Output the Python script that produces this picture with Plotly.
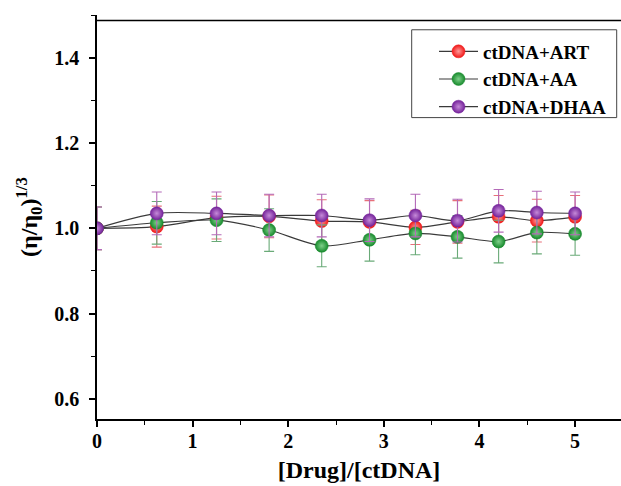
import plotly.graph_objects as go

ratio = [0, 0.625, 1.25, 1.8, 2.35, 2.85, 3.33, 3.77, 4.2, 4.6, 5.0]
art_y = [1.0, 1.004, 1.025, 1.028, 1.017, 1.015, 1.002, 1.015, 1.027, 1.018, 1.027]
aa_y = [1.0, 1.013, 1.019, 0.996, 0.959, 0.973, 0.988, 0.980, 0.969, 0.990, 0.987]
dhaa_y = [1.0, 1.035, 1.035, 1.030, 1.030, 1.019, 1.030, 1.018, 1.041, 1.037, 1.035]
art_err = [0.05, 0.048, 0.05, 0.05, 0.05, 0.05, 0.04, 0.05, 0.05, 0.05, 0.05]
aa_err = [0.05, 0.05, 0.05, 0.05, 0.049, 0.05, 0.05, 0.05, 0.05, 0.05, 0.05]
dhaa_err = [0.05, 0.05, 0.05, 0.05, 0.05, 0.05, 0.05, 0.05, 0.05, 0.05, 0.05]
names = ["ctDNA+ART", "ctDNA+AA", "ctDNA+DHAA"]

series = [
    (names[0], art_y, art_err, "#f01818", "#ff9a9a", "#e8707a"),
    (names[1], aa_y, aa_err, "#178a2c", "#7fd08a", "#6aaa78"),
    (names[2], dhaa_y, dhaa_err, "#74229a", "#c58ad8", "#b46ab8"),
]

fig = go.Figure()
for name, ys, errs, col, hi, ecol in series:
    fig.add_trace(go.Scatter(
        x=ratio, y=ys, name=name, mode="lines+markers",
        line=dict(color="#3a3a3a", width=1.2, shape="spline", smoothing=0.8),
        marker=dict(size=13, color=col, line=dict(width=0.5, color=col),
                    gradient=dict(type="radial", color=hi)),
        error_y=dict(type="data", array=errs, visible=True, color=ecol,
                     thickness=1.1, width=5),
    ))

PW, PH = 524.0, 404.8   # plot area size in px
X0, Y0 = 97.0, 419.3    # plot area left / bottom in window px

serif = "Liberation Serif, Times New Roman, serif"
fig.update_layout(
    width=621, height=486,
    margin=dict(l=97, r=0, t=14.5, b=66.7),
    paper_bgcolor="white", plot_bgcolor="white",
    font=dict(family=serif, color="black"),
    showlegend=True,
    legend=dict(x=(434 - X0) / PW, y=(Y0 - 32) / PH, xanchor="left", yanchor="top",
                borderwidth=0, bgcolor="rgba(0,0,0,0)",
                font=dict(family=serif, size=19, weight="bold"),
                tracegroupgap=0, itemwidth=39),
    xaxis=dict(range=[0, 5.48], showline=True, linecolor="black", linewidth=1.5,
               ticks="outside", ticklen=6, tickwidth=1.5, tickcolor="black",
               dtick=1, tick0=0, showgrid=False, zeroline=False, ticklabelstandoff=-3,
               tickfont=dict(family=serif, size=20, weight="bold"),
               minor=dict(ticks="outside", ticklen=4, dtick=0.5, tickcolor="black",
                          tickwidth=1.2, showgrid=False),
               title=dict(text="[Drug]/[ctDNA]", standoff=10,
                          font=dict(family=serif, size=24, weight="bold"))),
    yaxis=dict(range=[0.553, 1.5], showline=True, linecolor="black", linewidth=1.5,
               ticks="outside", ticklen=6, tickwidth=1.5, tickcolor="black",
               dtick=0.2, tick0=0.6, tickformat=".1f", showgrid=False, zeroline=False,
               ticklabelstandoff=6,
               tickfont=dict(family=serif, size=20, weight="bold"),
               minor=dict(ticks="outside", ticklen=4, dtick=0.1, tickcolor="black",
                          tickwidth=1.2, showgrid=False),
               title=dict(text="(η/η<sub>0</sub>)<sup>1/3</sup>", standoff=10,
                          font=dict(family=serif, size=24, weight="bold"))),
    shapes=[
        dict(type="line", xref="paper", yref="y", x0=0, x1=1, y0=1.487, y1=1.487,
             line=dict(color="black", width=1.5)),
        dict(type="rect", xref="paper", yref="paper",
             x0=(411.7 - X0) / PW, x1=(616.7 - X0) / PW,
             y0=(Y0 - 117.3) / PH, y1=(Y0 - 29.3) / PH,
             line=dict(color="#444444", width=1), fillcolor="white", layer="below"),
    ],
)

fig.write_html(
    "out.html",
    config={"displayModeBar": False},
    post_script=("document.body.style.margin='0';"
                 "document.body.style.overflow='hidden';"
                 "document.documentElement.style.overflow='hidden';"),
)
